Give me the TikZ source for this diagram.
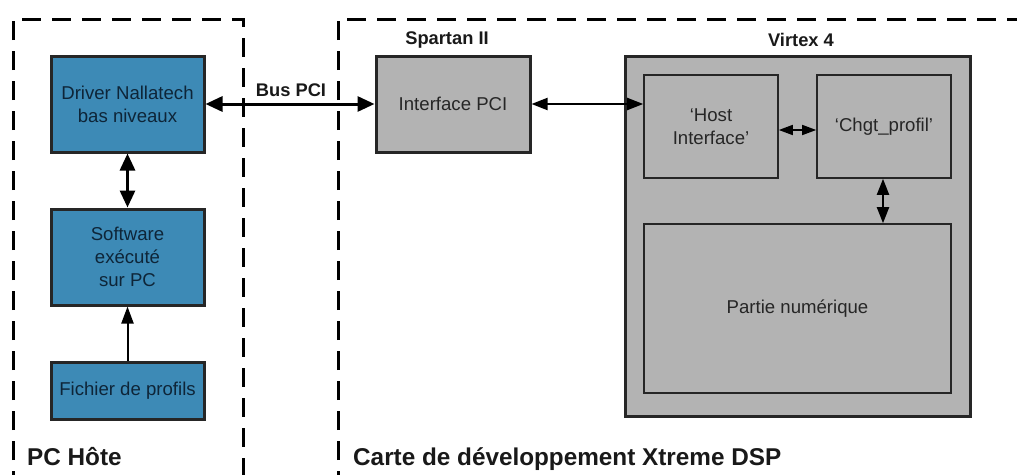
\documentclass[tikz,border=0pt]{standalone}
\usepackage{fontspec}
\setmainfont{Liberation Sans}
\usetikzlibrary{arrows.meta}
\definecolor{boxblue}{HTML}{3D8AB6}
\definecolor{boxgray}{HTML}{B3B3B3}
\definecolor{bluetext}{HTML}{0E2538}
\definecolor{graytext}{HTML}{262626}
\tikzset{
  bluebox/.style={draw=black!85, line width=3pt, fill=boxblue, text=bluetext, align=center,
    font=\fontsize{18.6}{23}\selectfont, inner sep=0pt},
  graybox/.style={draw=black!85, line width=3pt, fill=boxgray, text=graytext, align=center,
    font=\fontsize{18.6}{23}\selectfont, inner sep=0pt},
  innerbox/.style={draw=black!85, line width=1.6pt, fill=boxgray, text=graytext, align=center,
    font=\fontsize{18.6}{23}\selectfont, inner sep=0pt},
  zone/.style={draw=black, line width=3pt, dash pattern=on 19pt off 11pt},
  smalllabel/.style={font=\bfseries\fontsize{18.3}{22}\selectfont, text=black!90, inner sep=0pt},
  biglabel/.style={font=\bfseries\fontsize{24.3}{28}\selectfont, text=black!90, inner sep=0pt},
  bigarrow/.style={line width=3pt, {Triangle[length=17pt,width=15pt]}-{Triangle[length=17pt,width=15pt]}},
  midarrow/.style={line width=2pt, {Triangle[length=16pt,width=12pt]}-{Triangle[length=16pt,width=12pt]}},
  thinarrow/.style={line width=1.6pt, {Triangle[length=14pt,width=10pt]}-{Triangle[length=14pt,width=10pt]}},
  onearrow/.style={line width=2pt, -{Triangle[length=17pt,width=12pt]}},
}
\begin{document}
\begin{tikzpicture}[x=1pt,y=-1pt]
\useasboundingbox (0,0) rectangle (1017,474);
\begin{scope}
\clip (0,0) rectangle (1017,474);
% zones
\draw[zone] (13,490) -- (13,19) -- (243,19) -- (243,490);
\draw[zone] (338,490) -- (338,19) -- (1040,19);
\end{scope}

% PC side
\node[bluebox, minimum width=153pt, minimum height=96pt] (drv) at (127.5,104) {Driver Nallatech\\bas niveaux};
\node[bluebox, minimum width=153pt, minimum height=96pt] (sw) at (127.5,257) {Software\\exécuté\\sur PC};
\node[bluebox, minimum width=153pt, minimum height=57pt] (fich) at (127.5,390.5) {Fichier de profils};

% Spartan
\node[graybox, minimum width=154pt, minimum height=96pt] (ipci) at (453,104) {Interface PCI};

% Virtex
\node[graybox, minimum width=345pt, minimum height=360pt] (vtx) at (797.5,236) {};
\node[innerbox, minimum width=134pt, minimum height=103pt] (host) at (711,126.5) {‘Host\\Interface’};
\node[innerbox, minimum width=134pt, minimum height=103pt] (chgt) at (884,126.5) {‘Chgt\_profil’};
\node[innerbox, minimum width=307pt, minimum height=169pt] (part) at (797.5,308.5) {Partie numérique};

% labels
\node[smalllabel] (bus) at (291,90) {Bus PCI};
\node[smalllabel] (spl) at (447,40) {Spartan II};
\node[smalllabel] (vtl) at (801,40) {Virtex 4};
\node[biglabel, anchor=base west] (pch) at (27,465) {PC Hôte};
\node[biglabel, anchor=base west] (crt) at (353,465) {Carte de développement Xtreme DSP};

% connectors
\draw[bigarrow] (drv.east) -- (ipci.west);
\draw[midarrow] (ipci.east) -- (ipci.east -| host.west);
\draw[thinarrow] ([yshift=-3.5pt]host.east) -- ([yshift=-3.5pt]chgt.west);
\draw[midarrow] ([xshift=-1pt]chgt.south) -- ([xshift=-1pt]chgt.south |- part.north);
\draw[bigarrow] (drv.south) -- (sw.north);
\draw[onearrow] (fich.north) -- (sw.south);
\end{tikzpicture}
\end{document}
